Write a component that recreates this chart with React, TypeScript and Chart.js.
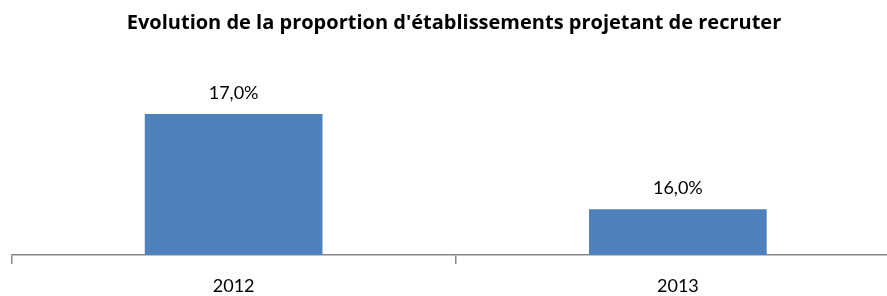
import React, { useEffect, useRef } from "react";
import { Chart, registerables } from "chart.js";

Chart.register(...registerables);

const titleText = "Evolution de la proportion d'établissements projetant de recruter";
const categories = ["2012", "2013"];
const values = [17.0, 16.0];
const valueLabels = ["17,0%", "16,0%"];
const axisMin = 15.52;
const axisMax = 17.515;

const titlePlugin = {
  id: "customTitle",
  afterDraw(chart: any) {
    const ctx = chart.ctx;
    ctx.save();
    ctx.font = "bold 20px 'Open Sans'";
    ctx.fillStyle = "#000";
    ctx.textAlign = "center";
    ctx.textBaseline = "middle";
    ctx.fillText(titleText, 454, 23);
    ctx.restore();
  },
};

const labelPlugin = {
  id: "valueLabels",
  afterDatasetsDraw(chart: any) {
    const ctx = chart.ctx;
    const meta = chart.getDatasetMeta(0);
    ctx.save();
    ctx.font = "18px Lato";
    ctx.fillStyle = "#000";
    ctx.textAlign = "center";
    ctx.textBaseline = "middle";
    meta.data.forEach((bar: any, i: number) => {
      ctx.fillText(valueLabels[i], bar.x, bar.y - 21);
    });
    ctx.restore();
  },
};

export default function App() {
  const ref = useRef<HTMLCanvasElement | null>(null);
  useEffect(() => {
    if (!ref.current) return;
    const chart = new Chart(ref.current, {
      type: "bar",
      data: {
        labels: categories,
        datasets: [
          {
            data: values,
            backgroundColor: "#4F81BD",
            borderWidth: 0,
            barPercentage: 0.4,
            categoryPercentage: 1,
          },
        ],
      },
      options: {
        responsive: false,
        animation: false,
        devicePixelRatio: 1,
        layout: { padding: { left: 11.5, right: 0, top: 65, bottom: 0 } },
        plugins: {
          legend: { display: false },
          tooltip: { enabled: false },
          title: { display: false },
        },
        scales: {
          y: { display: false, min: axisMin, max: axisMax },
          x: {
            offset: true,
            grid: {
              display: true,
              offset: true,
              drawOnChartArea: false,
              drawTicks: true,
              tickLength: 9,
              color: "#888888",
              lineWidth: 1.5,
            },
            border: { display: true, color: "#888888", width: 1.5 },
            ticks: {
              font: { family: "Lato", size: 18 },
              color: "#000",
              padding: 11,
            },
            afterFit(scale: any) {
              scale.height = 41;
            },
          },
        },
      },
      plugins: [titlePlugin, labelPlugin],
    });
    return () => chart.destroy();
  }, []);
  return (
    <div
      style={{
        position: "absolute",
        left: 0,
        top: 0,
        width: 887,
        height: 296,
        overflow: "hidden",
        background: "#fff",
      }}
    >
      <canvas ref={ref} width={900} height={296} style={{ width: 900, height: 296 }} />
    </div>
  );
}
